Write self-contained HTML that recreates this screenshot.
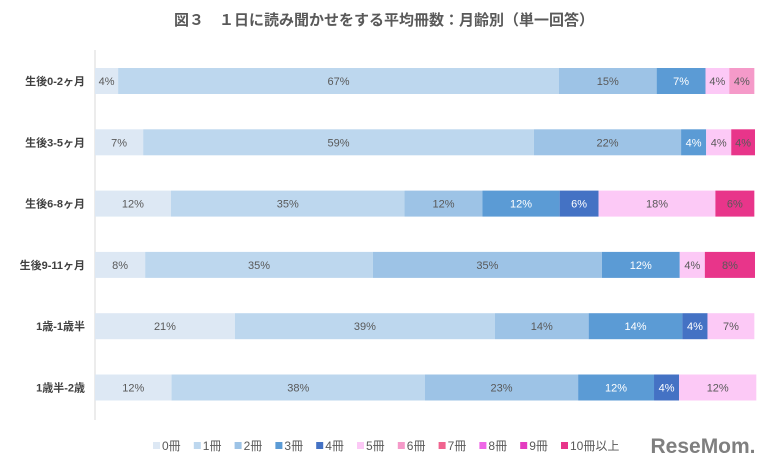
<!DOCTYPE html>
<html><head><meta charset="utf-8"><style>
body{margin:0;background:#fff;}
svg{display:block;font-family:"Liberation Sans","Noto Sans CJK JP",sans-serif;}
</style></head><body>
<svg id="chart" width="768" height="463">
<text x="384" y="25" text-anchor="middle" font-size="15" font-weight="bold" fill="#595959">図３　１日に読み聞かせをする平均冊数：月齢別（単一回答）</text>
<line x1="95" y1="50" x2="95" y2="420" stroke="#d9d9d9"/>
<g id="bars"></g><g id="legend"></g>
<text x="703" y="453" text-anchor="middle" font-size="21" font-weight="bold" fill="#7f7f7f">ReseMom.</text>
</svg>
<script>
const categories=["生後0-2ヶ月","生後3-5ヶ月","生後6-8ヶ月","生後9-11ヶ月","1歳-1歳半","1歳半-2歳"];
const seriesNames=["0冊","1冊","2冊","3冊","4冊","5冊","6冊","7冊","8冊","9冊","10冊以上"];
const s0=[3.5,7.3,11.5,7.6,21.2,11.6];
const s1=[66.8,59.2,35.4,34.5,39.4,38.4];
const s2=[14.8,22.3,11.8,34.7,14.2,23.2];
const s3=[7.4,3.8,11.7,11.8,14.2,11.5];
const s4=[0,0,5.9,0,3.8,3.8];
const s5=[3.6,3.8,17.7,3.8,7.1,11.7];
const s6=[3.8,0,0,0,0,0];
const s7=[0,0,0,0,0,0];
const s8=[0,0,0,0,0,0];
const s9=[0,0,0,0,0,0];
const s10=[0,3.6,5.9,7.6,0,0];
const series=[s0,s1,s2,s3,s4,s5,s6,s7,s8,s9,s10];
const colors=["#dde8f4","#bdd7ee","#9dc3e6","#5b9bd5","#4472c4","#fcc9f6","#f59ac9","#f0648f","#ee66e6","#e43cc0","#e8358a"];
const textCol=["#595959","#595959","#595959","#fff","#fff","#595959","#595959","#595959","#595959","#595959","#595959"];
const NS="http://www.w3.org/2000/svg";
const x0=95,W=660,rowTop=68,rowStep=61.3,barH=26;
const xs=v=>v/100*W;
const yRow=i=>rowTop+i*rowStep;
const g=document.getElementById('bars');
categories.forEach((c,i)=>{
  const y=yRow(i);
  const lab=document.createElementNS(NS,'text');
  
  
  lab.setAttribute('x',85);lab.setAttribute('y',y+barH/2+4);
  lab.setAttribute('text-anchor','end');lab.setAttribute('font-size','11');
  lab.setAttribute('font-weight','bold');lab.setAttribute('fill','#404040');
  lab.textContent=c;g.appendChild(lab);
  let x=x0;
  series.forEach((s,k)=>{
    const v=s[i];if(!v)return;
    const w=xs(v);
    const r=document.createElementNS(NS,'rect');
    
    
    r.setAttribute('x',x);r.setAttribute('y',y);r.setAttribute('width',w);r.setAttribute('height',barH);
    r.setAttribute('fill',colors[k]);g.appendChild(r);
    const t=document.createElementNS(NS,'text');
    
    
    t.setAttribute('x',x+w/2);t.setAttribute('y',y+barH/2+4);
    t.setAttribute('text-anchor','middle');t.setAttribute('font-size','11');
    t.setAttribute('fill',textCol[k]);
    t.textContent=Math.round(v)+'%';g.appendChild(t);
    x+=w;
  });
});
const lg=document.getElementById('legend');
let cx=153;
seriesNames.forEach((n,k)=>{
  const r=document.createElementNS(NS,'rect');
  
  
  r.setAttribute('x',cx);r.setAttribute('y',442);r.setAttribute('width',7);r.setAttribute('height',7);
  r.setAttribute('fill',colors[k]);lg.appendChild(r);
  const t=document.createElementNS(NS,'text');
  
  
  t.setAttribute('x',cx+9);t.setAttribute('y',450);t.setAttribute('font-size','12');t.setAttribute('fill','#595959');
  t.textContent=n;lg.appendChild(t);
  cx+=40.8;
});
</script>
</body></html>
